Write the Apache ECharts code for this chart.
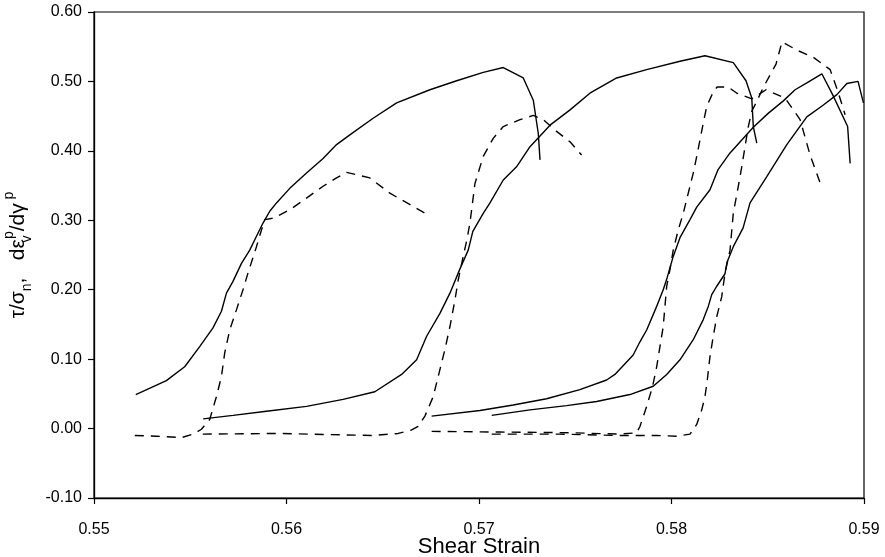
<!DOCTYPE html>
<html>
<head>
<meta charset="utf-8">
<script src="https://cdn.jsdelivr.net/npm/echarts@6/dist/echarts.min.js"></script>
<style>
  html, body { margin: 0; padding: 0; background: #fff; }
  #main { width: 885px; height: 557px; }
</style>
</head>
<body>
<div id="main"></div>
<script>
// 轴刻度
var xTicks = [0.55, 0.56, 0.57, 0.58, 0.59];
var yTicks = [-0.10, 0.00, 0.10, 0.20, 0.30, 0.40, 0.50, 0.60];

// 实线: tau/sigma_n  (shear strain, ratio)
var s1 = [[0.55217,0.049],[0.55376,0.069],[0.55471,0.089],[0.55549,0.118],[0.55618,0.145],[0.55662,0.169],[0.55688,0.195],[0.55722,0.212],[0.55766,0.238],[0.55809,0.257],[0.55844,0.277],[0.55878,0.296],[0.55913,0.313],[0.55948,0.325],[0.56017,0.346],[0.56104,0.368],[0.56190,0.389],[0.56260,0.409],[0.56329,0.423],[0.56450,0.447],[0.56572,0.469],[0.56745,0.488],[0.56884,0.501],[0.57022,0.513],[0.57126,0.520],[0.57230,0.505],[0.57282,0.473],[0.57308,0.425],[0.57317,0.387]];
var s2 = [[0.55567,0.014],[0.55722,0.019],[0.55896,0.025],[0.56104,0.032],[0.56294,0.042],[0.56459,0.053],[0.56598,0.078],[0.56676,0.099],[0.56728,0.133],[0.56797,0.166],[0.56849,0.195],[0.56901,0.230],[0.56944,0.257],[0.56968,0.284],[0.57022,0.310],[0.57057,0.325],[0.57126,0.358],[0.57195,0.377],[0.57265,0.406],[0.57369,0.437],[0.57473,0.459],[0.57576,0.483],[0.57715,0.505],[0.57871,0.517],[0.58044,0.529],[0.58174,0.537],[0.58321,0.527],[0.58387,0.501],[0.58417,0.476],[0.58425,0.435],[0.58443,0.411]];
var s3 = [[0.56754,0.018],[0.57005,0.026],[0.57178,0.034],[0.57351,0.043],[0.57524,0.056],[0.57663,0.070],[0.57706,0.078],[0.57801,0.106],[0.57836,0.125],[0.57871,0.142],[0.57923,0.176],[0.57957,0.200],[0.57977,0.217],[0.58009,0.248],[0.58044,0.275],[0.58096,0.301],[0.58131,0.319],[0.58200,0.344],[0.58242,0.373],[0.58304,0.397],[0.58425,0.434],[0.58502,0.454],[0.58581,0.472],[0.58642,0.488],[0.58703,0.498],[0.58781,0.511],[0.58837,0.481],[0.58915,0.435],[0.58928,0.382]];
var s4 = [[0.57066,0.019],[0.57265,0.027],[0.57455,0.033],[0.57611,0.039],[0.57784,0.049],[0.57905,0.061],[0.57975,0.078],[0.58044,0.099],[0.58113,0.128],[0.58165,0.157],[0.58191,0.176],[0.58209,0.193],[0.58235,0.205],[0.58278,0.223],[0.58289,0.240],[0.58321,0.262],[0.58372,0.289],[0.58408,0.325],[0.58495,0.363],[0.58599,0.409],[0.58703,0.449],[0.58789,0.466],[0.58859,0.481],[0.58911,0.497],[0.58969,0.500],[0.58997,0.469]];

// 虚线: d eps_v^p / d gamma^p
var d1 = [[0.55212,-0.010],[0.55324,-0.011],[0.55454,-0.013],[0.55515,-0.008],[0.55558,-0.001],[0.55601,0.013],[0.55636,0.046],[0.55662,0.075],[0.55679,0.109],[0.55705,0.142],[0.55740,0.171],[0.55774,0.200],[0.55800,0.224],[0.55844,0.262],[0.55870,0.286],[0.55887,0.301],[0.55930,0.303],[0.56017,0.315],[0.56104,0.332],[0.56190,0.349],[0.56260,0.361],[0.56312,0.369],[0.56433,0.361],[0.56537,0.339],[0.56728,0.309]];
var d2 = [[0.55565,-0.008],[0.55965,-0.007],[0.56277,-0.009],[0.56450,-0.010],[0.56580,-0.007],[0.56650,-0.002],[0.56684,0.003],[0.56719,0.018],[0.56762,0.046],[0.56797,0.085],[0.56823,0.114],[0.56849,0.147],[0.56875,0.185],[0.56892,0.214],[0.56918,0.248],[0.56937,0.272],[0.56953,0.296],[0.56979,0.353],[0.57022,0.392],[0.57074,0.418],[0.57126,0.435],[0.57213,0.445],[0.57282,0.451],[0.57334,0.445],[0.57403,0.428],[0.57473,0.413],[0.57533,0.394]];
var d3 = [[0.56754,-0.004],[0.57109,-0.005],[0.57473,-0.006],[0.57732,-0.008],[0.57819,-0.006],[0.57836,0.003],[0.57871,0.032],[0.57902,0.061],[0.57923,0.089],[0.57940,0.118],[0.57957,0.147],[0.57966,0.176],[0.57975,0.205],[0.57992,0.229],[0.58009,0.257],[0.58035,0.286],[0.58061,0.310],[0.58087,0.339],[0.58113,0.368],[0.58131,0.392],[0.58148,0.416],[0.58165,0.440],[0.58183,0.464],[0.58217,0.485],[0.58237,0.492],[0.58294,0.492],[0.58340,0.483],[0.58418,0.475],[0.58491,0.488],[0.58590,0.476],[0.58668,0.445],[0.58720,0.394],[0.58772,0.354]];
var d4 = [[0.57066,-0.008],[0.57420,-0.008],[0.57732,-0.010],[0.57923,-0.010],[0.58027,-0.011],[0.58096,-0.008],[0.58131,0.006],[0.58157,0.027],[0.58174,0.046],[0.58186,0.070],[0.58200,0.104],[0.58217,0.133],[0.58235,0.161],[0.58261,0.190],[0.58278,0.224],[0.58304,0.257],[0.58321,0.310],[0.58347,0.349],[0.58365,0.377],[0.58382,0.406],[0.58399,0.435],[0.58417,0.457],[0.58439,0.469],[0.58476,0.491],[0.58543,0.525],[0.58574,0.557],[0.58652,0.545],[0.58741,0.534],[0.58824,0.517],[0.58865,0.485],[0.58902,0.452]];

var solidList = [s1, s2, s3, s4];
var dashList = [d1, d2, d3, d4];

var fontName = 'Liberation Sans';

function makeLine(data, dashed) {
    return {
        type: 'line',
        data: data,
        symbol: 'none',
        smooth: false,
        silent: true,
        lineStyle: {
            color: '#000',
            width: 1.4,
            type: dashed ? [9, 7] : 'solid'
        }
    };
}

var seriesArr = [];
for (var i = 0; i < solidList.length; i++) {
    seriesArr.push(makeLine(solidList[i], false));
}
for (var j = 0; j < dashList.length; j++) {
    seriesArr.push(makeLine(dashList[j], true));
}

var chart = echarts.init(document.getElementById('main'), null, { renderer: 'canvas' });

var option = {
    animation: false,
    backgroundColor: '#fff',
    grid: {
        left: 94, right: 21, top: 12, bottom: 59,
        outerBoundsMode: 'none',
        containLabel: false,
        show: true,
        borderColor: '#000',
        borderWidth: 1.2,
        backgroundColor: 'transparent'
    },
    xAxis: {
        type: 'value',
        min: xTicks[0],
        max: xTicks[xTicks.length - 1],
        interval: 0.01,
        name: 'Shear Strain',
        nameLocation: 'middle',
        nameGap: 38,
        nameMoveOverlap: false,
        nameTextStyle: { fontFamily: fontName, fontSize: 22, color: '#000' },
        axisLine: { onZero: false, lineStyle: { color: '#000', width: 1.3 } },
        axisTick: { length: 6, lineStyle: { color: '#000', width: 1.2 } },
        axisLabel: {
            margin: 24,
            fontFamily: fontName, fontSize: 16, color: '#000',
            formatter: function (v) { return v.toFixed(2); }
        },
        splitLine: { show: false }
    },
    yAxis: {
        type: 'value',
        min: yTicks[0],
        max: yTicks[yTicks.length - 1],
        interval: 0.1,
        name: '{b|τ/σ}{sub|n}{b|,   dε}{subz|v}{sup|p}{b|/dγ}{sup| p}',
        nameLocation: 'middle',
        nameRotate: 90,
        nameGap: 60,
        nameMoveOverlap: false,
        nameTextStyle: {
            fontFamily: fontName, fontSize: 21, color: '#000',
            rich: {
                b: { fontFamily: fontName, fontSize: 21, color: '#000', lineHeight: 32 },
                sub: { fontFamily: fontName, fontSize: 14, color: '#000', lineHeight: 15, verticalAlign: 'bottom' },
                subz: { fontFamily: fontName, fontSize: 14, color: '#000', lineHeight: 15, verticalAlign: 'bottom', width: 0 },
                sup: { fontFamily: fontName, fontSize: 14, color: '#000', lineHeight: 15, verticalAlign: 'top' }
            }
        },
        axisLine: { onZero: false, lineStyle: { color: '#000', width: 1.3 } },
        axisTick: { length: 6, lineStyle: { color: '#000', width: 1.2 } },
        axisLabel: {
            margin: 12,
            fontFamily: fontName, fontSize: 16, color: '#000',
            formatter: function (v) { return v.toFixed(2); }
        },
        splitLine: { show: false }
    },
    series: seriesArr
};

chart.setOption(option);
</script>
</body>
</html>
